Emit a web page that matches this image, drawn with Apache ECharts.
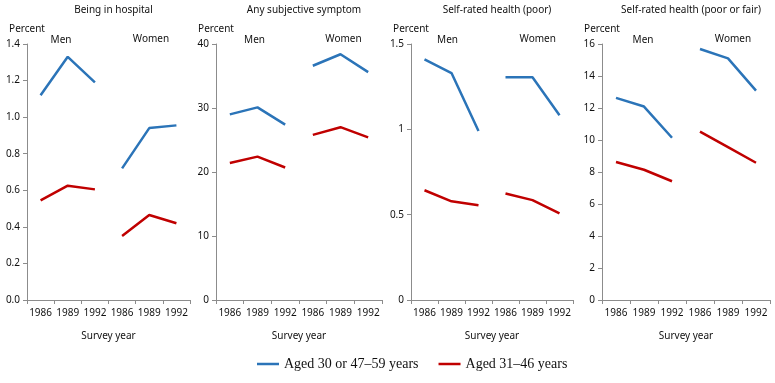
<!DOCTYPE html>
<html>
<head>
<meta charset="utf-8">
<script src="https://cdn.jsdelivr.net/npm/echarts@6/dist/echarts.min.js"></script>
<style>
  html, body { margin: 0; padding: 0; background: #fff; }
  #chart { width: 775px; height: 383px; }
</style>
</head>
<body>
<div id="chart"></div>
<script>
const years = ['1986', '1989', '1992', '1986', '1989', '1992'];
const panelTitles = ['Being in hospital', 'Any subjective symptom', 'Self-rated health (poor)', 'Self-rated health (poor or fair)'];
const olderName = 'Aged 30 or 47–59 years';
const middleName = 'Aged 31–46 years';

// [men 1986, 1989, 1992], [women 1986, 1989, 1992]
const hospitalOlderMen = [1.12, 1.33, 1.19];
const hospitalOlderWomen = [0.72, 0.94, 0.955];
const hospitalMiddleMen = [0.545, 0.625, 0.605];
const hospitalMiddleWomen = [0.35, 0.465, 0.42];

const symptomOlderMen = [29.0, 30.1, 27.4];
const symptomOlderWomen = [36.6, 38.4, 35.6];
const symptomMiddleMen = [21.4, 22.4, 20.7];
const symptomMiddleWomen = [25.8, 27.0, 25.4];

const poorOlderMen = [1.41, 1.33, 0.99];
const poorOlderWomen = [1.305, 1.305, 1.083];
const poorMiddleMen = [0.643, 0.578, 0.555];
const poorMiddleWomen = [0.624, 0.585, 0.508];

const poorFairOlderMen = [12.63, 12.09, 10.14];
const poorFairOlderWomen = [15.69, 15.1, 13.09];
const poorFairMiddleMen = [8.62, 8.14, 7.42];
const poorFairMiddleWomen = [10.52, 9.55, 8.58];

const yMax = [1.4, 40, 1.5, 16];
const yInterval = [0.2, 10, 0.5, 2];

const panelData = [
  [hospitalOlderMen, hospitalOlderWomen, hospitalMiddleMen, hospitalMiddleWomen],
  [symptomOlderMen, symptomOlderWomen, symptomMiddleMen, symptomMiddleWomen],
  [poorOlderMen, poorOlderWomen, poorMiddleMen, poorMiddleWomen],
  [poorFairOlderMen, poorFairOlderWomen, poorFairMiddleMen, poorFairMiddleWomen]
];

const blue = '#2b74b8';
const red = '#c00000';
const axisGrey = '#8c8c8c';
const sans = '"Noto Sans", "Liberation Sans", sans-serif';

const gridLefts = [27, 216, 411, 602];
const gridWidths = [163, 166, 162, 168];
const gridTop = 44;
const gridHeight = 256;
// centre of the Men / Women captions, measured from each grid's left edge
const menOffsets = [34, 38.5, 36.5, 41];
const womenOffsets = [124, 127.5, 126.7, 131];

function yLabel(panel, value) {
  if (panel === 0) return value.toFixed(1);
  return String(value);
}

const menRow = (v) => [v[0], v[1], v[2], null, null, null];
const womenRow = (v) => [null, null, null, v[0], v[1], v[2]];

const grids = [], xAxes = [], yAxes = [], titles = [], series = [], graphics = [];

panelData.forEach(function (rows, i) {
  grids.push({ left: gridLefts[i], top: gridTop, width: gridWidths[i], height: gridHeight });

  xAxes.push({
    type: 'category',
    gridIndex: i,
    data: years,
    boundaryGap: true,
    name: 'Survey year',
    nameLocation: 'middle',
    nameGap: 31,
    nameTextStyle: { fontFamily: sans, fontSize: 10, color: '#111' },
    axisLine: { lineStyle: { color: axisGrey } },
    axisTick: { show: true, length: 4, lineStyle: { color: axisGrey } },
    axisLabel: { fontFamily: sans, fontSize: 10, color: '#111', margin: 8, interval: 0 }
  });

  yAxes.push({
    type: 'value',
    gridIndex: i,
    min: 0,
    max: yMax[i],
    interval: yInterval[i],
    name: 'Percent',
    nameLocation: 'end',
    nameGap: 10,
    nameTextStyle: { fontFamily: sans, fontSize: 10, color: '#111' },
    axisLine: { show: true, lineStyle: { color: axisGrey } },
    axisTick: { show: true, length: 4, lineStyle: { color: axisGrey } },
    splitLine: { show: false },
    axisLabel: {
      fontFamily: sans, fontSize: 10, color: '#111', margin: 7,
      formatter: function (v) { return yLabel(i, v); }
    }
  });

  titles.push({
    text: panelTitles[i],
    left: gridLefts[i] + gridWidths[i] / 2,
    top: 0,
    textAlign: 'center',
    textStyle: { fontFamily: sans, fontSize: 10, fontWeight: 'normal', color: '#111' }
  });

  const lineDefs = [
    [olderName, blue, menRow(rows[0])],
    [olderName, blue, womenRow(rows[1])],
    [middleName, red, menRow(rows[2])],
    [middleName, red, womenRow(rows[3])]
  ];
  lineDefs.forEach(function (def) {
    series.push({
      type: 'line',
      name: def[0],
      xAxisIndex: i,
      yAxisIndex: i,
      data: def[2],
      showSymbol: false,
      symbol: 'none',
      connectNulls: false,
      lineStyle: { color: def[1], width: 2.5 },
      itemStyle: { color: def[1] },
      emphasis: { disabled: true }
    });
  });

  graphics.push({
    type: 'text',
    x: gridLefts[i] + menOffsets[i],
    y: 40,
    style: { text: 'Men', fontFamily: sans, fontSize: 10, fill: '#111', align: 'center', verticalAlign: 'middle' }
  });
  graphics.push({
    type: 'text',
    x: gridLefts[i] + womenOffsets[i],
    y: 39.5,
    style: { text: 'Women', fontFamily: sans, fontSize: 10, fill: '#111', align: 'center', verticalAlign: 'middle' }
  });
});

const chart = echarts.init(document.getElementById('chart'), null, { renderer: 'canvas' });
chart.setOption({
  animation: false,
  title: titles,
  grid: grids,
  xAxis: xAxes,
  yAxis: yAxes,
  series: series,
  graphic: graphics,
  legend: {
    data: [olderName, middleName],
    left: 252,
    top: 352,
    icon: 'rect',
    itemWidth: 22,
    itemHeight: 2.5,
    itemGap: 20,
    textStyle: { fontFamily: '"Liberation Serif", "Times New Roman", serif', fontSize: 14, color: '#111' }
  }
});
</script>
</body>
</html>
